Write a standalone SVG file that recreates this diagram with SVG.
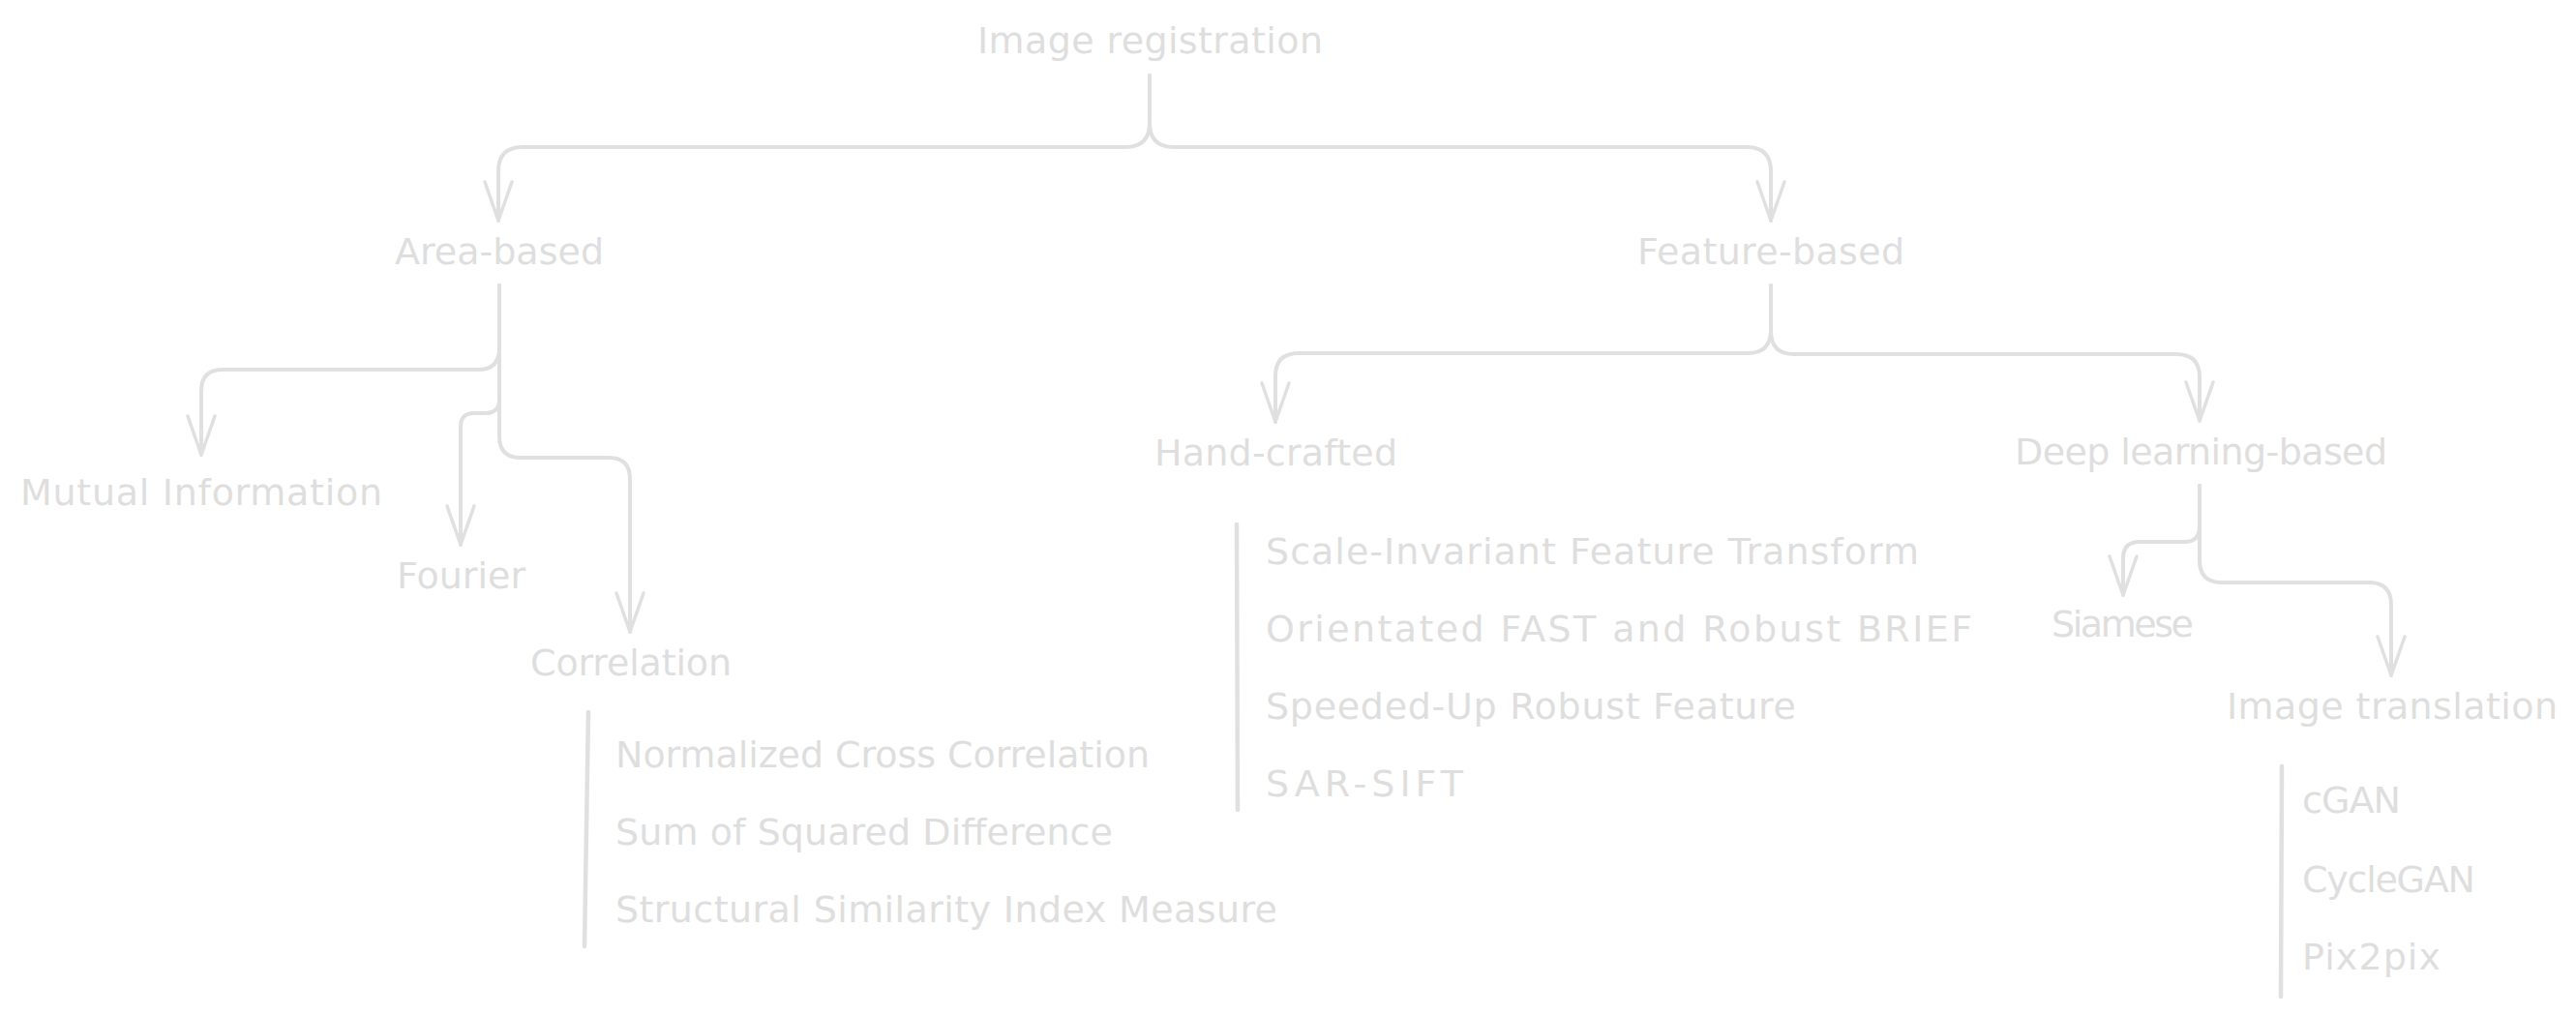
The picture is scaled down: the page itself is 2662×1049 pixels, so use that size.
<svg xmlns="http://www.w3.org/2000/svg" width="2662" height="1049" viewBox="0 0 2662 1049">
  <style>
    .t { font-family: "DejaVu Sans", "Liberation Sans", sans-serif; font-size: 38px; fill: #dedede; }
    .c { fill: none; stroke: #e0e0e0; stroke-width: 4; stroke-linecap: round; stroke-linejoin: round; }
    .bar { fill: none; stroke: #e0e0e0; stroke-width: 4.5; stroke-linecap: round; }
  </style>
  <defs>
    <marker id="ah" markerUnits="userSpaceOnUse" viewBox="-46 -20 50 40" markerWidth="50" markerHeight="40" refX="0" refY="0" orient="auto">
      <path d="M-40,-14 L0,0 L-40,14" fill="none" stroke="#e0e0e0" stroke-width="3.5" stroke-linecap="round" stroke-linejoin="round"/>
    </marker>
  </defs>
  <rect width="2662" height="1049" fill="#ffffff"/>

  <g id="connectors">
    <path class="c" marker-end="url(#ah)" d="M1188,78 L1188,127 Q1188,152 1163,152 L540,152 Q515,152 515,177 L515,228"/>
    <path class="c" marker-end="url(#ah)" d="M1188,78 L1188,127 Q1188,152 1213,152 L1805,152 Q1830,152 1830,177 L1830,228"/>
    <path class="c" marker-end="url(#ah)" d="M516,295 L516,360 Q516,382 494,382 L230,382 Q208,382 208,404 L208,470"/>
    <path class="c" marker-end="url(#ah)" d="M516,295 L516,413 Q516,427 502,427 L490,427 Q476,427 476,441 L476,563"/>
    <path class="c" marker-end="url(#ah)" d="M516,295 L516,451 Q516,473 538,473 L629,473 Q651,473 651,495 L651,653"/>
    <path class="c" marker-end="url(#ah)" d="M1830,295 L1830,341 Q1830,365 1806,365 L1342,365 Q1318,365 1318,389 L1318,436"/>
    <path class="c" marker-end="url(#ah)" d="M1830,295 L1830,342 Q1830,366 1854,366 L2249,366 Q2273,366 2273,390 L2273,435"/>
    <path class="c" marker-end="url(#ah)" d="M2273,502 L2273,544 Q2273,560 2257,560 L2211,560 Q2194,560 2194,577 L2194,615"/>
    <path class="c" marker-end="url(#ah)" d="M2273,502 L2273,579 Q2273,602 2296,602 L2448,602 Q2471,602 2471,625 L2471,698"/>
  </g>

  <g id="image-registration"><text class="t" x="1010" y="55" textLength="357">Image registration</text></g>
  <g id="area-based"><text class="t" x="408" y="273" textLength="216">Area-based</text></g>
  <g id="feature-based"><text class="t" x="1692" y="273" textLength="276">Feature-based</text></g>
  <g id="mutual-information"><text class="t" x="21" y="522" textLength="374">Mutual Information</text></g>
  <g id="fourier"><text class="t" x="410" y="608" textLength="133">Fourier</text></g>
  <g id="correlation"><text class="t" x="548" y="698" textLength="208">Correlation</text></g>
  <g id="correlation-methods">
    <path class="bar" d="M608,736 L604,978"/>
    <text class="t" x="636" y="793" textLength="552">Normalized Cross Correlation</text>
    <text class="t" x="636" y="873" textLength="514">Sum of Squared Difference</text>
    <text class="t" x="636" y="953" textLength="684">Structural Similarity Index Measure</text>
  </g>
  <g id="hand-crafted"><text class="t" x="1193" y="481" textLength="251">Hand-crafted</text></g>
  <g id="hand-crafted-methods">
    <path class="bar" d="M1278,542 L1279,837"/>
    <text class="t" x="1308" y="583" textLength="675">Scale-Invariant Feature Transform</text>
    <text class="t" x="1308" y="663" textLength="730">Orientated FAST and Robust BRIEF</text>
    <text class="t" x="1308" y="743" textLength="548">Speeded-Up Robust Feature</text>
    <text class="t" x="1308" y="823" textLength="204">SAR-SIFT</text>
  </g>
  <g id="deep-learning-based"><text class="t" x="2082" y="480" textLength="385">Deep learning-based</text></g>
  <g id="siamese"><text class="t" x="2120" y="658" textLength="147">Siamese</text></g>
  <g id="image-translation"><text class="t" x="2301" y="743" textLength="342">Image translation</text></g>
  <g id="image-translation-methods">
    <path class="bar" d="M2358,792 L2357,1030"/>
    <text class="t" x="2379" y="840" textLength="102">cGAN</text>
    <text class="t" x="2379" y="922" textLength="179">CycleGAN</text>
    <text class="t" x="2379" y="1002" textLength="143">Pix2pix</text>
  </g>
</svg>
